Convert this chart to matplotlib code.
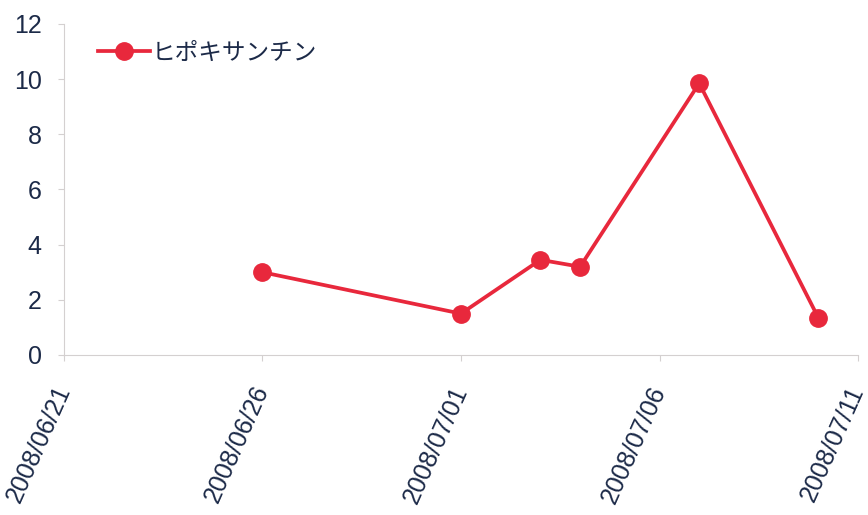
import matplotlib
matplotlib.use("Agg")
import matplotlib.pyplot as plt
import matplotlib.dates as mdates
from datetime import date, timedelta

# measurements per day
DATES = ["2008-06-26", "2008-07-01", "2008-07-03", "2008-07-04",
         "2008-07-07", "2008-07-10"]
VALUES = [3.0, 1.5, 3.45, 3.2, 9.85, 1.35]
SERIES_NAME = "ヒポキサンチン"

X_START = date(2008, 6, 21)
X_END = date(2008, 7, 11)
Y_TICKS = [0, 2, 4, 6, 8, 10, 12]

RED = "#e8283c"
TEXT = "#1c2a48"
AXIS = "#d4d0d0"

plt.rcParams["font.family"] = ["Liberation Sans", "Noto Sans CJK JP", "DejaVu Sans"]

xs = [date.fromisoformat(d) for d in DATES]

fig = plt.figure(figsize=(8.68, 5.15), dpi=100)
ax = fig.add_axes([0.0737, 0.3107, 0.9148, 0.6427])

ax.plot(xs, VALUES, color=RED, lw=2.7, marker="o", ms=12.5,
        markeredgecolor=RED, label=SERIES_NAME)

ax.set_xlim(X_START, X_END)
ax.set_ylim(0, 12)
ax.set_yticks(Y_TICKS)

ticks = [X_START + timedelta(days=5 * i) for i in range(5)]
ax.set_xticks(ticks)
ax.xaxis.set_major_formatter(mdates.DateFormatter("%Y/%m/%d"))
for lbl in ax.get_xticklabels():
    lbl.set_rotation(66)
    lbl.set_ha("right")
    lbl.set_va("center")
    lbl.set_rotation_mode("anchor")

ax.tick_params(axis="y", labelsize=18, colors=AXIS, labelcolor=TEXT,
               length=4, pad=12)
ax.tick_params(axis="x", labelsize=18, colors=AXIS, labelcolor=TEXT,
               length=4, pad=19)

for side in ("top", "right"):
    ax.spines[side].set_visible(False)
for side in ("left", "bottom"):
    ax.spines[side].set_color(AXIS)
    ax.spines[side].set_linewidth(0.8)

leg = ax.legend(loc="upper left", frameon=False, handlelength=2.2,
                handletextpad=0.1, borderaxespad=0.35,
                bbox_to_anchor=(0.02, 1.0),
                prop={"family": ["Noto Sans CJK JP"], "size": 17})
for t in leg.get_texts():
    t.set_color(TEXT)

fig.savefig("out.png", dpi=100)
